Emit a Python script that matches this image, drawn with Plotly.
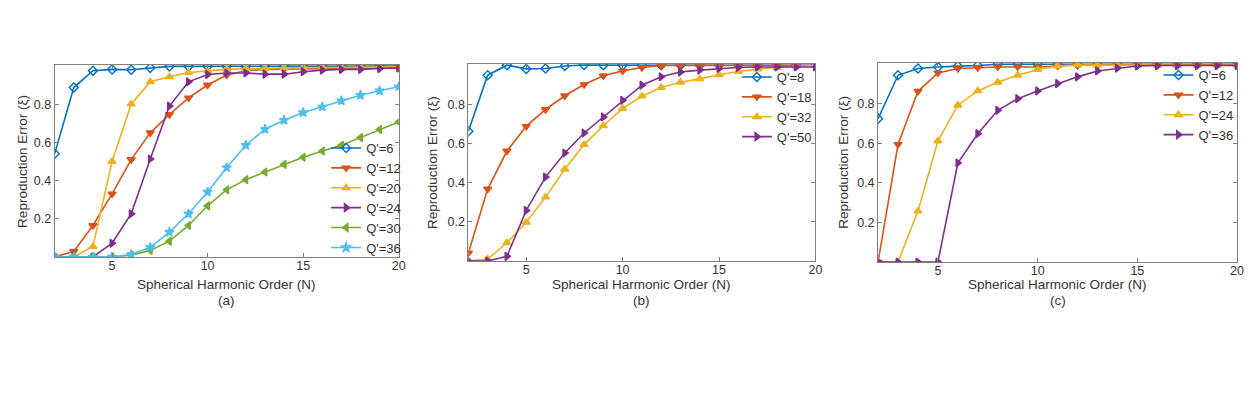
import plotly.graph_objects as go

# harmonic orders shared by all panels
N = list(range(2, 21))

# panel (a)
a_labels = ["Q'=6", "Q'=12", "Q'=20", "Q'=24", "Q'=30", "Q'=36"]
a_q6 = [0.541, 0.887, 0.975, 0.982, 0.980, 0.990, 0.998, 0.998, 0.998, 0.998, 0.999, 0.999, 0.999, 0.999, 0.999, 0.999, 0.999, 0.999, 0.999]
a_q12 = [0.0, 0.03, 0.165, 0.33, 0.51, 0.65, 0.746, 0.833, 0.90, 0.952, 0.975, 0.982, 0.983, 0.984, 0.985, 0.986, 0.987, 0.988, 0.990]
a_q20 = [0.0, 0.0, 0.055, 0.50, 0.80, 0.917, 0.943, 0.965, 0.975, 0.982, 0.985, 0.988, 0.990, 0.991, 0.992, 0.993, 0.994, 0.995, 0.995]
a_q24 = [0.0, 0.0, 0.0, 0.072, 0.226, 0.513, 0.79, 0.917, 0.955, 0.963, 0.963, 0.957, 0.957, 0.97, 0.978, 0.982, 0.982, 0.987, 0.99]
a_q30 = [0.0, 0.0, 0.0, 0.0, 0.01, 0.034, 0.083, 0.165, 0.268, 0.352, 0.405, 0.445, 0.485, 0.522, 0.555, 0.585, 0.625, 0.667, 0.707]
a_q36 = [0.0, 0.0, 0.0, 0.0, 0.013, 0.051, 0.13, 0.226, 0.34, 0.468, 0.585, 0.669, 0.716, 0.756, 0.786, 0.818, 0.847, 0.87, 0.891]

# panel (b)
b_labels = ["Q'=8", "Q'=18", "Q'=32", "Q'=50"]
b_q8 = [0.662, 0.948, 0.999, 0.98, 0.982, 0.995, 1.0, 0.999, 0.999, 0.999, 0.999, 0.999, 0.999, 0.999, 0.999, 0.999, 0.999, 0.999, 0.999]
b_q18 = [0.041, 0.367, 0.561, 0.687, 0.773, 0.843, 0.90, 0.945, 0.97, 0.987, 0.997, 0.999, 0.998, 0.997, 0.997, 0.997, 0.997, 0.997, 0.997]
b_q32 = [0.0, 0.01, 0.093, 0.198, 0.326, 0.468, 0.594, 0.69, 0.778, 0.841, 0.885, 0.912, 0.929, 0.95, 0.967, 0.979, 0.987, 0.994, 0.999]
b_q50 = [0.0, 0.0, 0.024, 0.258, 0.428, 0.551, 0.653, 0.735, 0.82, 0.897, 0.94, 0.964, 0.974, 0.982, 0.987, 0.99, 0.99, 0.99, 0.99]

# panel (c)
c_labels = ["Q'=6", "Q'=12", "Q'=24", "Q'=36"]
c_q6 = [0.724, 0.943, 0.977, 0.985, 0.989, 0.992, 0.999, 0.999, 0.999, 0.999, 0.999, 0.999, 0.999, 0.999, 0.999, 0.999, 0.999, 0.999, 0.999]
c_q12 = [0.0, 0.594, 0.862, 0.955, 0.977, 0.982, 0.985, 0.985, 0.985, 0.99, 0.995, 0.995, 0.995, 0.995, 0.995, 0.995, 0.995, 0.995, 0.995]
c_q24 = [0.0, 0.0, 0.257, 0.611, 0.792, 0.864, 0.908, 0.943, 0.972, 0.989, 0.995, 0.995, 0.995, 0.994, 0.994, 0.994, 0.994, 0.994, 0.994]
c_q36 = [0.0, 0.0, 0.0, 0.0, 0.50, 0.648, 0.766, 0.825, 0.864, 0.901, 0.935, 0.965, 0.979, 0.99, 0.992, 0.992, 0.992, 0.992, 0.992]

# MATLAB default line colours and markers
colors = ['#0072BD', '#D95319', '#EDB120', '#7E2F8E', '#77AC30', '#4DBEEE']
symbols = ['diamond-open', 'triangle-down', 'triangle-up', 'triangle-right', 'triangle-left', 'star']

FONT = 'Liberation Sans, Arial, sans-serif'
AXCOL = '#808080'
TXT = '#333333'

panels = [
    (a_labels, [a_q6, a_q12, a_q20, a_q24, a_q30, a_q36]),
    (b_labels, [b_q8, b_q18, b_q32, b_q50]),
    (c_labels, [c_q6, c_q12, c_q24, c_q36]),
]

fig = go.Figure()
for p, (labels, series) in enumerate(panels):
    sfx = '' if p == 0 else str(p + 1)
    for i, (lab, ys) in enumerate(zip(labels, series)):
        fig.add_trace(go.Scatter(
            x=N, y=ys, name=lab, mode='lines+markers',
            xaxis='x' + sfx, yaxis='y' + sfx,
            legend='legend' + sfx,
            line=dict(color=colors[i], width=1.6),
            marker=dict(symbol=symbols[i], size=7, color=colors[i],
                        line=dict(color=colors[i], width=1.4)),
        ))

W, H = 1256, 393
x_domains = [[55 / W, 401 / W], [471 / W, 820 / W], [883 / W, 1244 / W]]
y_domains = [[1 - 257 / H, 1 - 65 / H], [1 - 261 / H, 1 - 64 / H], [1 - 262 / H, 1 - 63 / H]]
legend_pos = [(328 / W, 1 - 133 / H), (741 / W, 1 - 62 / H), (1165 / W, 1 - 60 / H)]
ylab_x = [22, 435, 848]
captions = ['(a)', '(b)', '(c)']

layout = dict(
    width=W, height=H,
    margin=dict(l=0, r=0, t=0, b=0),
    paper_bgcolor='white', plot_bgcolor='white',
    font=dict(family=FONT, size=13, color=TXT),
    showlegend=True,
    annotations=[],
)

for p in range(3):
    sfx = '' if p == 0 else str(p + 1)
    layout['xaxis' + sfx] = dict(
        domain=x_domains[p], anchor='y' + sfx, range=[2, 20],
        tickvals=[5, 10, 15, 20], ticks='inside', ticklen=4, tickcolor=AXCOL,
        showline=True, linecolor=AXCOL, linewidth=1, mirror='ticks',
        showgrid=False, zeroline=False,
        tickfont=dict(size=12.5, color=TXT), ticklabelstandoff=-3,
    )
    layout['yaxis' + sfx] = dict(
        domain=y_domains[p], anchor='x' + sfx, range=[0, 1.005],
        tickvals=[0.2, 0.4, 0.6, 0.8], ticktext=['0.2', '0.4', '0.6', '0.8'],
        ticks='inside', ticklen=4, tickcolor=AXCOL,
        showline=True, linecolor=AXCOL, linewidth=1, mirror='ticks',
        showgrid=False, zeroline=False,
        tickfont=dict(size=12.5, color=TXT),
    )
    layout['legend' + sfx] = dict(
        x=legend_pos[p][0], y=legend_pos[p][1], xanchor='left', yanchor='top',
        bgcolor='rgba(255,255,255,0)', borderwidth=0,
        font=dict(size=13, color=TXT), tracegroupgap=0, itemwidth=30,
    )
    dom = x_domains[p]
    xc = (dom[0] + dom[1]) / 2
    layout['annotations'].append(dict(
        text='Reproduction Error (\u03be)', textangle=-90, showarrow=False,
        xref='paper', yref='paper', x=ylab_x[p] / W, y=sum(y_domains[p]) / 2,
        font=dict(size=13.5), xanchor='center', yanchor='middle',
    ))
    layout['annotations'].append(dict(
        text='Spherical Harmonic Order (N)', showarrow=False,
        xref='paper', yref='paper', x=xc, y=1 - 284 / H,
        xanchor='center', yanchor='middle', font=dict(size=13.5),
    ))
    layout['annotations'].append(dict(
        text=captions[p], showarrow=False, xref='paper', yref='paper',
        x=xc, y=1 - 300 / H, xanchor='center', yanchor='middle',
        font=dict(size=13.5),
    ))

fig.update_layout(**layout)
fig.write_html("out.html", config={'displayModeBar': False},
               post_script="document.body.style.margin='0';document.body.style.padding='0';")
